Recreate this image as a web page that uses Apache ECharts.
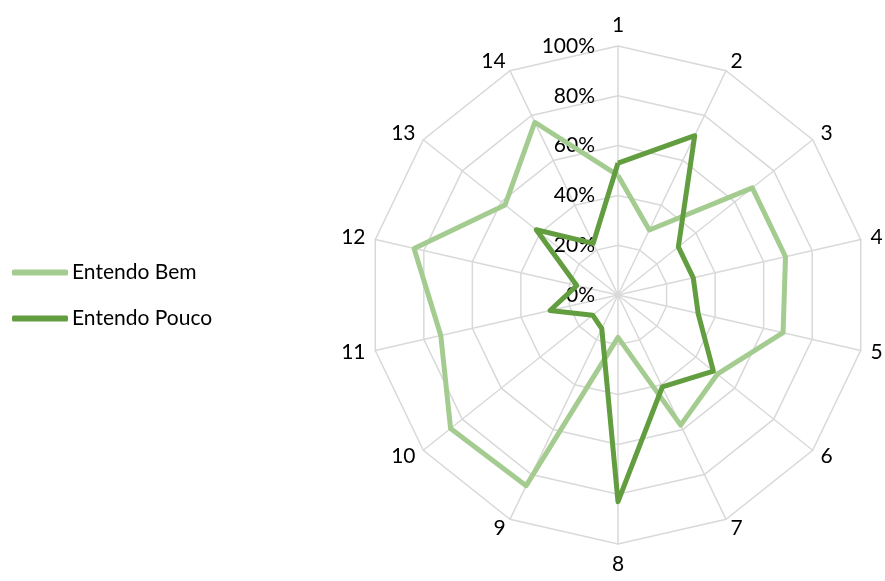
<!DOCTYPE html>
<html>
<head>
<meta charset="utf-8">
<script src="https://cdn.jsdelivr.net/npm/echarts@6/dist/echarts.min.js"></script>
<style>
  html, body { margin: 0; padding: 0; background: #fff; }
  #chart { width: 885px; height: 581px; }
</style>
</head>
<body>
<div id="chart"></div>
<script>
// Questions 1..14, percentages per answer group
const categories = ['1', '2', '3', '4', '5', '6', '7', '8', '9', '10', '11', '12', '13', '14'];
const entendoBem   = [48, 29, 69, 69, 68, 51, 58, 17, 85, 86, 73, 84, 58, 77];
const entendoPouco = [53, 71, 31, 31, 33, 49, 41, 83, 15, 13, 28, 17, 42, 23];
const tickLabels = ['0%', '20%', '40%', '60%', '80%', '100%'];
const seriesNames = ['Entendo Bem', 'Entendo Pouco'];
const colors = ['#A5CC90', '#629D3F'];

// ECharts lays radar indicators out counter-clockwise; reorder so they run clockwise.
const order = [0].concat(categories.map((_, i) => i).slice(1).reverse());
const reorder = arr => order.map(i => arr[i]);

const font = 'Lato, "Liberation Sans", sans-serif';

const indicator = order.map((i, k) => {
  const ind = { name: categories[i], min: 0, max: 100 };
  if (k === 0) {
    ind.axisLabel = {
      show: true,
      color: '#000',
      fontSize: 21,
      fontFamily: font,
      margin: 23,
      formatter: v => tickLabels[Math.round(v / 20)]
    };
  }
  return ind;
});

const chart = echarts.init(document.getElementById('chart'));
chart.setOption({
  animation: false,
  color: colors,
  legend: {
    orient: 'vertical',
    left: 7,
    top: 257,
    itemWidth: 56,
    itemHeight: 6,
    itemGap: 25,
    icon: 'roundRect',
    textStyle: { fontSize: 21, fontFamily: font, color: '#000', padding: [0, 0, 0, -1] },
    data: seriesNames
  },
  radar: {
    center: [618, 295],
    radius: 249,
    shape: 'polygon',
    splitNumber: 5,
    indicator: indicator,
    axisName: { color: '#000', fontSize: 21, fontFamily: font },
    nameGap: 10,
    axisLine: { lineStyle: { color: '#D9D9D9', width: 1.5 } },
    splitLine: { lineStyle: { color: '#D9D9D9', width: 1.5 } },
    splitArea: { show: false },
    axisTick: { show: false },
    axisLabel: { show: false }
  },
  series: [{
    type: 'radar',
    symbol: 'none',
    data: [
      { name: seriesNames[0], value: reorder(entendoBem),
        lineStyle: { width: 5, color: colors[0] }, itemStyle: { color: colors[0] } },
      { name: seriesNames[1], value: reorder(entendoPouco),
        lineStyle: { width: 5, color: colors[1] }, itemStyle: { color: colors[1] } }
    ]
  }]
});
</script>
</body>
</html>
